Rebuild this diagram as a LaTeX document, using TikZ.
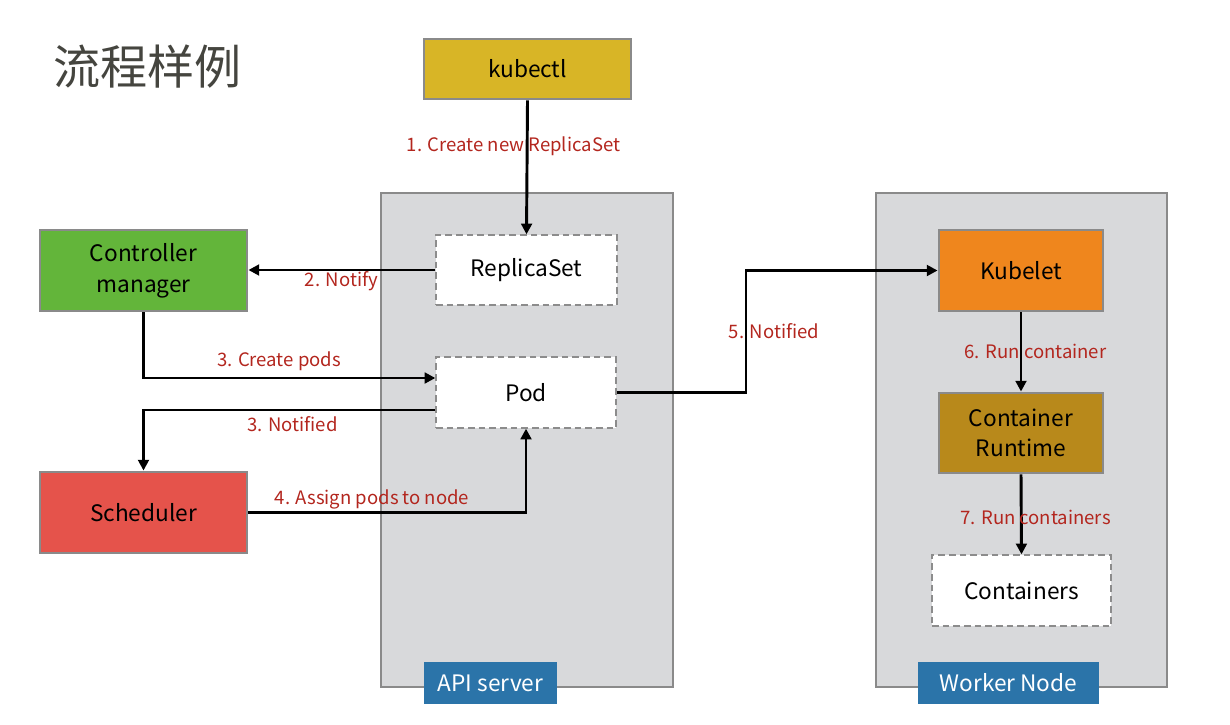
\documentclass[tikz,border=0pt]{standalone}
\usepackage{fontspec}
\setmainfont{Noto Sans CJK SC}
\usetikzlibrary{arrows.meta}

\definecolor{boxline}{HTML}{8A8A8A}
\definecolor{boxfill}{HTML}{D8D9DB}
\definecolor{dashline}{HTML}{8C8C8C}
\definecolor{kubectlfill}{HTML}{D8B526}
\definecolor{cmfill}{HTML}{63B53A}
\definecolor{schedfill}{HTML}{E5534B}
\definecolor{kubeletfill}{HTML}{EF861D}
\definecolor{runtimefill}{HTML}{B8891B}
\definecolor{tagblue}{HTML}{2B74A9}
\definecolor{labelred}{HTML}{B3261E}
\definecolor{titlegray}{HTML}{45453F}

\tikzset{
  sketch/.style={draw=boxline, line width=2.2pt},
  comp/.style={sketch, align=center, text=black, font=\fontsize{17}{23}\selectfont},
  res/.style={draw=dashline, dash pattern=on 5pt off 3pt, line width=1pt, fill=white, text=black, font=\fontsize{17}{23}\selectfont},
  group/.style={sketch, fill=boxfill, minimum height=370.5pt},
  tag/.style={fill=tagblue, text=white, minimum height=31.5pt, font=\fontsize{17}{20}\selectfont},
  flow/.style={line width=2.2pt, -{Triangle[length=8pt,width=8pt]}},
  lbl/.style={text=labelred, font=\fontsize{13.9}{16}\selectfont},
}

\begin{document}
\begin{tikzpicture}[x=0.75pt,y=-0.75pt]
    \useasboundingbox (0,0) rectangle (1230,724);
    \node[text=titlegray, font=\fontsize{35.3}{40}\selectfont] (title) at (147.5,67) {流程样例};

    % groups
    \node[group, minimum width=219pt] (api) at (527,440) {};
    \node[group, minimum width=218.25pt] (worker) at (1021.5,440) {};
    \node[tag, minimum width=99.75pt] (apitag) at (490.5,683) {API server};
    \node[tag, minimum width=135.75pt] (workertag) at (1008.5,683) {Worker Node};

    % components
    \node[comp, fill=kubectlfill, minimum width=155.25pt, minimum height=45pt] (kubectl) at (527.5,69) {kubectl};
    \node[comp, fill=cmfill, minimum width=155.25pt, minimum height=60.75pt] (cm) at (143.5,270.5) {Controller\\manager};
    \node[comp, fill=schedfill, minimum width=155.25pt, minimum height=60.75pt] (sched) at (143.5,512.5) {Scheduler};
    \node[comp, fill=kubeletfill, minimum width=123pt, minimum height=60.75pt] (kubelet) at (1021,270.5) {Kubelet};
    \node[comp, fill=runtimefill, minimum width=123pt, minimum height=60pt] (runtime) at (1021,433) {Container\\Runtime};

    % resources
    \node[res, minimum width=135.75pt, minimum height=52.5pt] (rs) at (526.5,270) {ReplicaSet};
    \node[res, minimum width=135pt, minimum height=53.25pt] (pod) at (526,392.5) {Pod};
    \node[res, minimum width=134.25pt, minimum height=53.25pt] (ctrs) at (1021.5,590.5) {Containers};

    % flow
    \coordinate (bend) at (746,330);
    \draw[flow] (kubectl.south) -- (rs.north);
    \draw[flow] (rs.west) -- (rs.west -| cm.east);
    \draw[flow] (cm.south) |- (pod.west |- 0,378);
    \draw[flow] (pod.west |- 0,410) -| (sched.north);
    \draw[flow] (sched.east) -| (pod.south);
    \draw[flow] (pod.east) -| (bend) |- (kubelet.west);
    \draw[flow] (kubelet.south) -- (runtime.north);
    \draw[flow] (runtime.south) -- (ctrs.north);

    % labels
    \node[lbl] (l1) at (513.5,146) {1. Create new ReplicaSet};
    \node[lbl] (l2) at (341.5,281) {2. Notify};
    \node[lbl] (l3) at (279,361) {3. Create pods};
    \node[lbl] (l3b) at (292.5,424) {3. Notified};
    \node[lbl] (l4) at (372,499) {4. Assign pods to node};
    \node[lbl] (l5) at (774,331) {5. Notified};
    \node[lbl] (l6) at (1035.5,351) {6. Run container};
    \node[lbl] (l7) at (1035.5,517) {7. Run containers};
\end{tikzpicture}
\end{document}
